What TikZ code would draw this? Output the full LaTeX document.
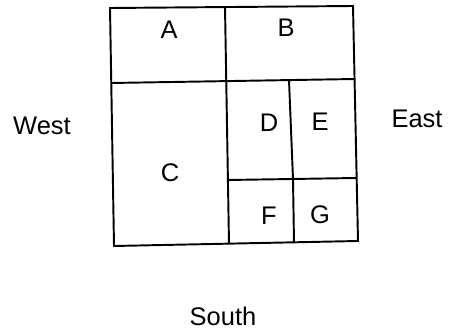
\documentclass[tikz,border=0pt]{standalone}
\usepackage{fontspec}
\setmainfont{Liberation Sans}
\usetikzlibrary{positioning}

\begin{document}
\begin{tikzpicture}[
    x=0.02cm, y=-0.02cm,
    wall/.style={line width=1.1pt, black, line join=miter},
    room/.style={font=\fontsize{14.5}{16}\selectfont, inner sep=0pt},
    side/.style={font=\fontsize{14.5}{16}\selectfont, inner sep=0pt},
]
\useasboundingbox (0,0) rectangle (450,331);

% Corners of the plan (scanned, slightly turned)
\coordinate (nw) at (110,8);
\coordinate (ne) at (353,6);
\coordinate (se) at (358,241);
\coordinate (sw) at (114,246);

% Outline and inner walls
\draw[wall] (nw) -- (ne) -- (se) -- (sw) -- cycle;
\draw[wall] (111,83) -- (355,79);
\draw[wall] (225,7) -- (229,244);
\draw[wall] (289,80) -- (293,179) -- (294,243);
\draw[wall] (228,180) -- (356,178);

% Rooms
\node[room] (a) at (169,30) {A};
\node[room] (b) at (286,28) {B};
\node[room] (c) at (170,173) {C};
\node[room] (d) at (269,123) {D};
\node[room] (e) at (320,122) {E};
\node[room] (f) at (269,216) {F};
\node[room] (g) at (320,215) {G};

% Directions
\node[side] (west) at (42,126) {West};
\node[side] (east) at (417,119) {East};
\node[side] (south) at (223,316) {South};

\end{tikzpicture}
\end{document}
